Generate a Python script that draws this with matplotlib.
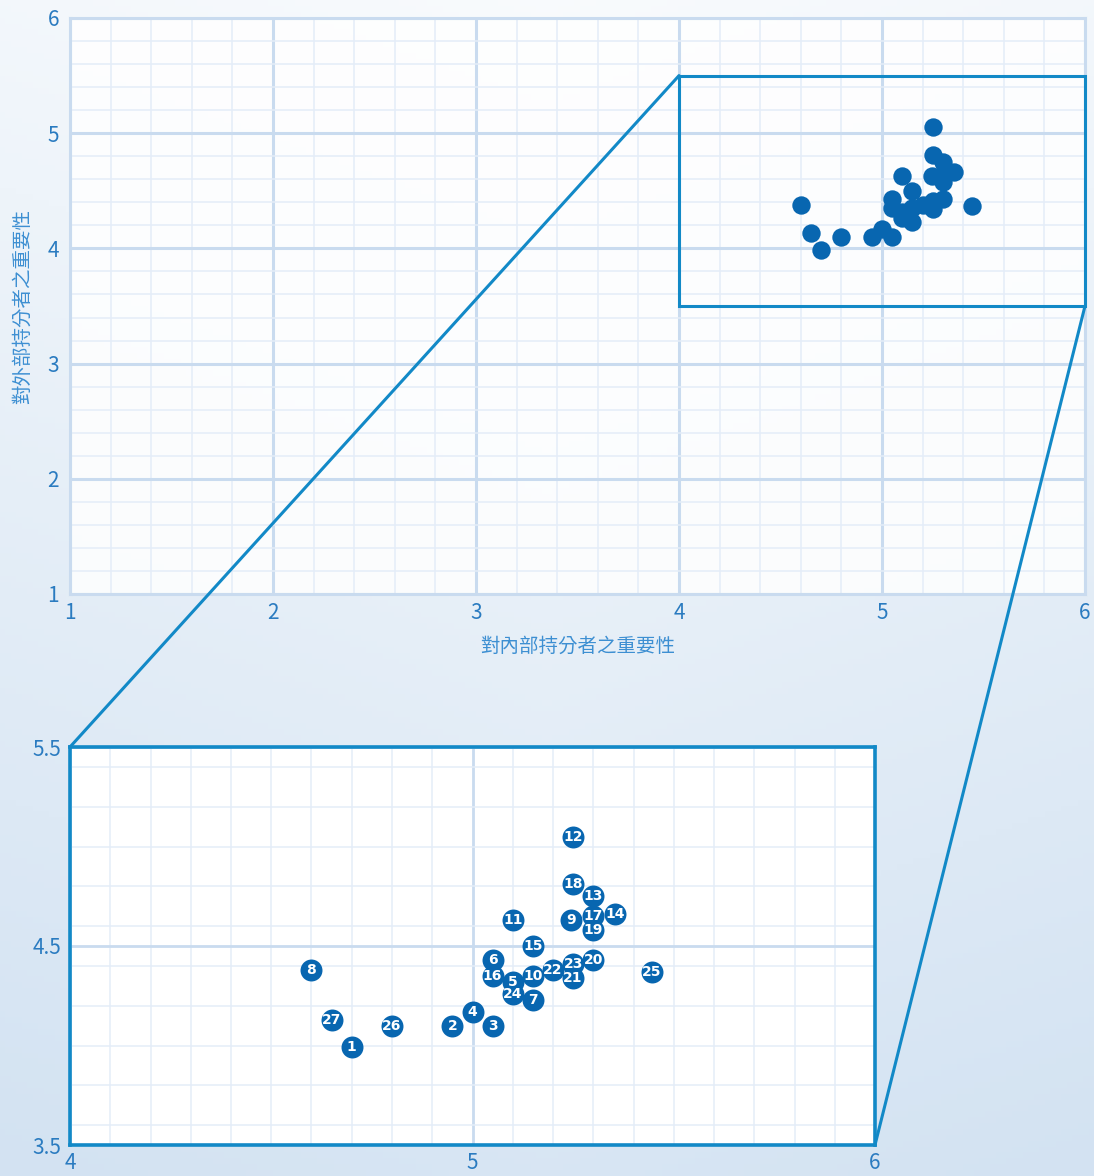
import numpy as np
import matplotlib
matplotlib.use("Agg")
import matplotlib.pyplot as plt
from matplotlib.patches import Rectangle, ConnectionPatch
from matplotlib.ticker import MultipleLocator

plt.rcParams['font.family'] = ['Noto Sans CJK TC', 'DejaVu Sans']

# ---- data ----
ids = list(range(1, 28))
internal = [4.70, 4.95, 5.05, 5.00, 5.10, 5.05, 5.15, 4.60, 5.245, 5.15,
            5.10, 5.25, 5.30, 5.355, 5.15, 5.05, 5.30, 5.25, 5.30, 5.30,
            5.25, 5.20, 5.25, 5.10, 5.445, 4.80, 4.65]
external = [3.99, 4.10, 4.10, 4.17, 4.32, 4.43, 4.23, 4.38, 4.63, 4.35,
            4.63, 5.05, 4.75, 4.66, 4.50, 4.35, 4.65, 4.81, 4.58, 4.43,
            4.34, 4.38, 4.41, 4.26, 4.37, 4.10, 4.13]
xlabel = "對內部持分者之重要性"
ylabel = "對外部持分者之重要性"
main_ticks = [1, 2, 3, 4, 5, 6]
zoom_xticks = [4, 5, 6]
zoom_yticks = [3.5, 4.5, 5.5]

W, H = 1094, 1176
fig = plt.figure(figsize=(W / 100, H / 100), dpi=100)

# background gradient
bg = fig.add_axes([0, 0, 1, 1], zorder=-10)
yy, xx = np.mgrid[0:1:200j, 0:1:200j]
t = np.clip(0.15 + 0.75 * yy + 0.25 * np.abs(xx - 0.5), 0, 1)
c0 = np.array([1.0, 1.0, 1.0])
c1 = np.array([0.83, 0.89, 0.95])
img = c0[None, None, :] * (1 - t[..., None]) + c1[None, None, :] * t[..., None]
bg.imshow(img, extent=[0, 1, 0, 1], aspect='auto', origin='upper')
bg.axis('off')

tick_color = '#2a7bc0'
label_color = '#3d8fd2'
major_grid = '#c9dbef'
minor_grid = '#e4edf8'
frame_blue = '#1289c7'
dot_blue = '#0866b0'

# ---- main axes ----
ax = fig.add_axes([70 / W, 1 - 594 / H, (1085 - 70) / W, (594 - 18) / H])
ax.set_facecolor((1, 1, 1, 0.85))
ax.set_xlim(1, 6)
ax.set_ylim(1, 6)
ax.xaxis.set_major_locator(MultipleLocator(1))
ax.yaxis.set_major_locator(MultipleLocator(1))
ax.xaxis.set_minor_locator(MultipleLocator(0.2))
ax.yaxis.set_minor_locator(MultipleLocator(0.2))
ax.grid(which='major', color=major_grid, lw=2.2)
ax.grid(which='minor', color=minor_grid, lw=1.1)
ax.set_axisbelow(True)
for s in ax.spines.values():
    s.set_color(major_grid)
    s.set_linewidth(2.2)
ax.tick_params(which='both', length=0, colors=tick_color, labelsize=15)
ax.tick_params(axis='x', pad=6)
ax.tick_params(axis='y', pad=8)
ax.set_xticks(main_ticks)
ax.set_yticks(main_ticks)
ax.set_xlabel(xlabel, color=label_color, fontsize=14, labelpad=8)
ax.set_ylabel(ylabel, color=label_color, fontsize=14, labelpad=10)
ax.scatter(internal, external, s=175, color=dot_blue, zorder=3, linewidths=0)
ax.add_patch(Rectangle((4, 3.5), 2, 2, fill=False, ec=frame_blue, lw=2.2,
                       zorder=4, clip_on=False))

# ---- zoom axes ----
az = fig.add_axes([70 / W, 1 - 1145 / H, (875 - 70) / W, (1145 - 747) / H])
az.set_facecolor('white')
az.set_xlim(4, 6)
az.set_ylim(3.5, 5.5)
az.set_xticks(zoom_xticks)
az.set_yticks(zoom_yticks)
az.xaxis.set_minor_locator(MultipleLocator(0.1))
az.yaxis.set_minor_locator(MultipleLocator(0.2))
az.grid(which='major', color=major_grid, lw=2.0)
az.grid(which='minor', color=minor_grid, lw=1.1)
az.set_axisbelow(True)
for s in az.spines.values():
    s.set_color(frame_blue)
    s.set_linewidth(2.6)
az.tick_params(which='both', length=0, colors=tick_color, labelsize=15)
az.tick_params(axis='x', pad=5)
az.tick_params(axis='y', pad=6)
az.scatter(internal, external, s=250, color=dot_blue, zorder=3, linewidths=0)
for i, x, y in zip(ids, internal, external):
    az.text(x, y, str(i), color='white', fontsize=10, fontweight='bold',
            ha='center', va='center', zorder=4, family='DejaVu Sans')

# connectors
for (xa, ya), (xb, yb) in [((4, 5.5), (4, 5.5)), ((6, 3.5), (6, 3.5))]:
    cp = ConnectionPatch(xyA=(xa, ya), coordsA=ax.transData,
                         xyB=(xb, yb), coordsB=az.transData,
                         color=frame_blue, lw=2.2, zorder=5)
    fig.add_artist(cp)

fig.savefig('out.png', dpi=100)
